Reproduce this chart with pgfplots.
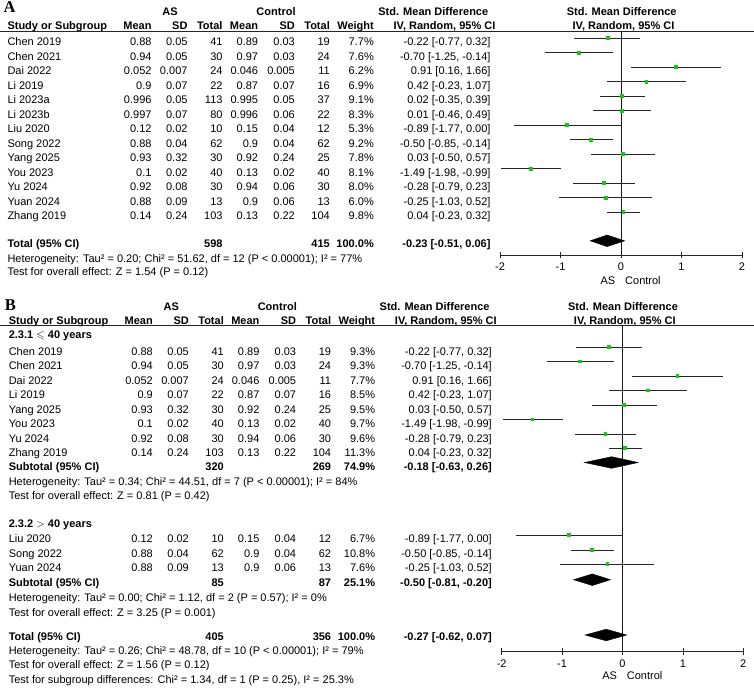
\documentclass[border=0pt]{standalone}
\usepackage{fontspec}
\setmainfont{Liberation Sans}
\newfontfamily\lserif{Liberation Serif}
\usepackage{amssymb}
\usepackage{pgfplots}
\usepackage{pgfplotstable}
\pgfplotsset{compat=1.18}
\definecolor{agreen}{RGB}{20,200,20}
\newcommand\fs{\fontsize{11}{13}\selectfont}

% Panel A studies: SMD, lower CI, upper CI, row position
\pgfplotstableread{
smd lo hi y
-0.22 -0.77 0.32 -38.2
-0.70 -1.25 -0.14 -52.7
0.91 0.16 1.66 -67.2
0.42 -0.23 1.07 -81.7
0.02 -0.35 0.39 -96.2
0.01 -0.46 0.49 -110.7
-0.89 -1.77 0.00 -125.2
-0.50 -0.85 -0.14 -139.7
0.03 -0.50 0.57 -154.2
-1.49 -1.98 -0.99 -168.7
-0.28 -0.79 0.23 -183.2
-0.25 -1.03 0.52 -197.7
0.04 -0.23 0.32 -212.2
}\studiesA

% Panel B studies
\pgfplotstableread{
smd lo hi y
-0.22 -0.77 0.32 -347
-0.70 -1.25 -0.14 -361.5
0.91 0.16 1.66 -376
0.42 -0.23 1.07 -390.5
0.03 -0.50 0.57 -405
-1.49 -1.98 -0.99 -419.5
-0.28 -0.79 0.23 -434
0.04 -0.23 0.32 -448.3
-0.89 -1.77 0.00 -535
-0.50 -0.85 -0.14 -550
-0.25 -1.03 0.52 -564.3
}\studiesB

\def\xo{0}
\newcommand\drow[9]{%
 \node[anchor=base west] at (7.3+\xo,#1) {#2};
 \node[anchor=base east] at (151.7+\xo,#1) {#3};
 \node[anchor=base east] at (187.7+\xo,#1) {#4};
 \node[anchor=base east] at (222.7+\xo,#1) {#5};
 \node[anchor=base east] at (258.3+\xo,#1) {#6};
 \node[anchor=base east] at (295+\xo,#1) {#7};
 \node[anchor=base east] at (330+\xo,#1) {#8};
 \node[anchor=base east] at (374+\xo,#1) {#9};}
\newcommand\ci[2]{\node[anchor=base east] at (490.7+\xo,#1) {#2};}
\newcommand\hdr[4]{% #1 letter, #2 letter baseline, #3 first header baseline, #4 second header baseline
 \node[anchor=base west, font=\lserif\bfseries\fontsize{16.5}{18}\selectfont] at (3.5+\xo,#2) {#1};
 \begin{scope}[every node/.append style={font=\fs\bfseries}]
 \node[anchor=base] at (170+\xo,#3) {AS};
 \node[anchor=base] at (276+\xo,#3) {Control};
 \node[anchor=base] at (433.3+\xo,#3) {Std. Mean Difference};
 \node[anchor=base] at (621.7+\xo,#3) {Std. Mean Difference};
 \node[anchor=base west] at (7.3+\xo,#4) {Study or Subgroup};
 \node[anchor=base east] at (151.7+\xo,#4) {Mean};
 \node[anchor=base east] at (187.7+\xo,#4) {SD};
 \node[anchor=base east] at (222.7+\xo,#4) {Total};
 \node[anchor=base east] at (258.3+\xo,#4) {Mean};
 \node[anchor=base east] at (295+\xo,#4) {SD};
 \node[anchor=base east] at (330+\xo,#4) {Total};
 \node[anchor=base east] at (374+\xo,#4) {Weight};
 \node[anchor=base] at (444.5+\xo,#4) {IV, Random, 95\% CI};
 \node[anchor=base] at (623.5+\xo,#4) {IV, Random, 95\% CI};
 \end{scope}
 \draw[line width=0.8pt, black!85] (0,#4+1.3) -- (754,#4+1.3);}

\pgfplotsset{forest/.style={
 scale only axis, clip=false,
 xmin=-2, xmax=2,
 axis x line*=bottom, axis y line=none, ytick=\empty,
 x axis line style={-, line width=0.8pt, black!85},
 xtick={-2,-1,0,1,2}, xtick align=center, major tick length=6.6pt,
 tick style={line width=0.8pt, black!85},
 xticklabel style={font=\fs, anchor=base, inner sep=0pt, yshift=-12.4pt},
 /pgf/number format/assume math mode=true,
}}

\begin{document}
\begin{tikzpicture}[every node/.style={inner sep=0pt, font=\fs}]
\useasboundingbox (0pt,0pt) rectangle (754pt,-691pt);

% ---------------- Panel A text ----------------
\begin{scope}[x=1pt,y=-1pt]
\hdr{A}{12.7}{15.7}{29.7}
\drow{45.7}{Chen 2019}{0.88}{0.05}{41}{0.89}{0.03}{19}{7.7\%}\ci{45.7}{-0.22 [-0.77, 0.32]}
\drow{60.2}{Chen 2021}{0.94}{0.05}{30}{0.97}{0.03}{24}{7.6\%}\ci{60.2}{-0.70 [-1.25, -0.14]}
\drow{74.7}{Dai 2022}{0.052}{0.007}{24}{0.046}{0.005}{11}{6.2\%}\ci{74.7}{0.91 [0.16, 1.66]}
\drow{89.2}{Li 2019}{0.9}{0.07}{22}{0.87}{0.07}{16}{6.9\%}\ci{89.2}{0.42 [-0.23, 1.07]}
\drow{103.7}{Li 2023a}{0.996}{0.05}{113}{0.995}{0.05}{37}{9.1\%}\ci{103.7}{0.02 [-0.35, 0.39]}
\drow{118.2}{Li 2023b}{0.997}{0.07}{80}{0.996}{0.06}{22}{8.3\%}\ci{118.2}{0.01 [-0.46, 0.49]}
\drow{132.7}{Liu 2020}{0.12}{0.02}{10}{0.15}{0.04}{12}{5.3\%}\ci{132.7}{-0.89 [-1.77, 0.00]}
\drow{147.2}{Song 2022}{0.88}{0.04}{62}{0.9}{0.04}{62}{9.2\%}\ci{147.2}{-0.50 [-0.85, -0.14]}
\drow{161.7}{Yang 2025}{0.93}{0.32}{30}{0.92}{0.24}{25}{7.8\%}\ci{161.7}{0.03 [-0.50, 0.57]}
\drow{176.2}{You 2023}{0.1}{0.02}{40}{0.13}{0.02}{40}{8.1\%}\ci{176.2}{-1.49 [-1.98, -0.99]}
\drow{190.7}{Yu 2024}{0.92}{0.08}{30}{0.94}{0.06}{30}{8.0\%}\ci{190.7}{-0.28 [-0.79, 0.23]}
\drow{205.2}{Yuan 2024}{0.88}{0.09}{13}{0.9}{0.06}{13}{6.0\%}\ci{205.2}{-0.25 [-1.03, 0.52]}
\drow{219.7}{Zhang 2019}{0.14}{0.24}{103}{0.13}{0.22}{104}{9.8\%}\ci{219.7}{0.04 [-0.23, 0.32]}
\begin{scope}[every node/.append style={font=\fs\bfseries}]
\drow{247.7}{Total (95\% CI)}{}{}{598}{}{}{415}{100.0\%}\ci{247.7}{-0.23 [-0.51, 0.06]}
\end{scope}
\node[anchor=base west] at (7.3,262.3) {Heterogeneity: Tau² = 0.20; Chi² = 51.62, df = 12 (P < 0.00001); I² = 77\%};
\node[anchor=base west] at (7.3,275.7) {Test for overall effect: Z = 1.54 (P = 0.12)};
\node[anchor=base east] at (615.5,284) {AS};
\node[anchor=base west] at (625,284) {Control};
\end{scope}

% ---------------- Panel A plot ----------------
\begin{axis}[forest, at={(500pt,-255pt)}, anchor=south west,
  width=242pt, height=224pt, ymin=-255, ymax=-31]
\addplot[black!90, line width=0.8pt] coordinates {(0,-31) (0,-255)};
\addplot[draw=none, mark=none, error bars/.cd, x dir=both, x explicit, error mark=none,
  error bar style={draw=black!85, line width=0.8pt}]
  table[x=smd, y=y, x error plus expr=\thisrow{hi}-\thisrow{smd},
        x error minus expr=\thisrow{smd}-\thisrow{lo}] {\studiesA};
\addplot[only marks, color=agreen, mark=square*, mark size=1.4pt, mark options={draw=agreen, fill=agreen, line width=0pt}]
  table[x=smd, y=y] {\studiesA};
\addplot[fill=black, draw=black] coordinates {(-0.51,-240.8) (-0.23,-235) (0.06,-240.8) (-0.23,-246.6)} -- cycle;
\end{axis}

% ---------------- Panel B text ----------------
\begin{scope}[x=1pt,y=-1pt]
\def\xo{1.3}
\hdr{B}{310.5}{310}{324.4}
\node[anchor=base west, font=\fs\bfseries] at (7.3+\xo,338.3) {2.3.1 $\leqslant$ 40 years};
\drow{355}{Chen 2019}{0.88}{0.05}{41}{0.89}{0.03}{19}{9.3\%}\ci{355}{-0.22 [-0.77, 0.32]}
\drow{369.5}{Chen 2021}{0.94}{0.05}{30}{0.97}{0.03}{24}{9.3\%}\ci{369.5}{-0.70 [-1.25, -0.14]}
\drow{384}{Dai 2022}{0.052}{0.007}{24}{0.046}{0.005}{11}{7.7\%}\ci{384}{0.91 [0.16, 1.66]}
\drow{398.5}{Li 2019}{0.9}{0.07}{22}{0.87}{0.07}{16}{8.5\%}\ci{398.5}{0.42 [-0.23, 1.07]}
\drow{413}{Yang 2025}{0.93}{0.32}{30}{0.92}{0.24}{25}{9.5\%}\ci{413}{0.03 [-0.50, 0.57]}
\drow{427.5}{You 2023}{0.1}{0.02}{40}{0.13}{0.02}{40}{9.7\%}\ci{427.5}{-1.49 [-1.98, -0.99]}
\drow{442}{Yu 2024}{0.92}{0.08}{30}{0.94}{0.06}{30}{9.6\%}\ci{442}{-0.28 [-0.79, 0.23]}
\drow{456.3}{Zhang 2019}{0.14}{0.24}{103}{0.13}{0.22}{104}{11.3\%}\ci{456.3}{0.04 [-0.23, 0.32]}
\begin{scope}[every node/.append style={font=\fs\bfseries}]
\drow{470.5}{Subtotal (95\% CI)}{}{}{320}{}{}{269}{74.9\%}\ci{470.5}{-0.18 [-0.63, 0.26]}
\end{scope}
\node[anchor=base west] at (7.3+\xo,485) {Heterogeneity: Tau² = 0.34; Chi² = 44.51, df = 7 (P < 0.00001); I² = 84\%};
\node[anchor=base west] at (7.3+\xo,499) {Test for overall effect: Z = 0.81 (P = 0.42)};
\node[anchor=base west, font=\fs\bfseries] at (7.3+\xo,527.3) {2.3.2 $>$ 40 years};
\drow{542.3}{Liu 2020}{0.12}{0.02}{10}{0.15}{0.04}{12}{6.7\%}\ci{542.3}{-0.89 [-1.77, 0.00]}
\drow{557}{Song 2022}{0.88}{0.04}{62}{0.9}{0.04}{62}{10.8\%}\ci{557}{-0.50 [-0.85, -0.14]}
\drow{571.7}{Yuan 2024}{0.88}{0.09}{13}{0.9}{0.06}{13}{7.6\%}\ci{571.7}{-0.25 [-1.03, 0.52]}
\begin{scope}[every node/.append style={font=\fs\bfseries}]
\drow{586.3}{Subtotal (95\% CI)}{}{}{85}{}{}{87}{25.1\%}\ci{586.3}{-0.50 [-0.81, -0.20]}
\drow{640}{Total (95\% CI)}{}{}{405}{}{}{356}{100.0\%}\ci{640}{-0.27 [-0.62, 0.07]}
\end{scope}
\node[anchor=base west] at (7.3+\xo,601.3) {Heterogeneity: Tau² = 0.00; Chi² = 1.12, df = 2 (P = 0.57); I² = 0\%};
\node[anchor=base west] at (7.3+\xo,616) {Test for overall effect: Z = 3.25 (P = 0.001)};
\node[anchor=base west] at (7.3+\xo,654) {Heterogeneity: Tau² = 0.26; Chi² = 48.78, df = 10 (P < 0.00001); I² = 79\%};
\node[anchor=base west] at (7.3+\xo,668.3) {Test for overall effect: Z = 1.56 (P = 0.12)};
\node[anchor=base west] at (7.3+\xo,683) {Test for subgroup differences: Chi² = 1.34, df = 1 (P = 0.25), I² = 25.3\%};
\node[anchor=base east] at (617.2,679.7) {AS};
\node[anchor=base west] at (626.7,679.7) {Control};
\end{scope}

% ---------------- Panel B plot ----------------
\begin{axis}[forest, at={(501.7pt,-651.7pt)}, anchor=south west,
  width=241.6pt, height=326.2pt, ymin=-651.7, ymax=-325.5]
\addplot[black!90, line width=0.8pt] coordinates {(0,-325.5) (0,-651.7)};
\addplot[draw=none, mark=none, error bars/.cd, x dir=both, x explicit, error mark=none,
  error bar style={draw=black!85, line width=0.8pt}]
  table[x=smd, y=y, x error plus expr=\thisrow{hi}-\thisrow{smd},
        x error minus expr=\thisrow{smd}-\thisrow{lo}] {\studiesB};
\addplot[only marks, color=agreen, mark=square*, mark size=1.4pt, mark options={draw=agreen, fill=agreen, line width=0pt}]
  table[x=smd, y=y] {\studiesB};
\addplot[fill=black, draw=black] coordinates {(-0.63,-462.5) (-0.18,-456.7) (0.26,-462.5) (-0.18,-468.3)} -- cycle;
\addplot[fill=black, draw=black] coordinates {(-0.81,-579.7) (-0.50,-573.9) (-0.20,-579.7) (-0.50,-585.5)} -- cycle;
\addplot[fill=black, draw=black] coordinates {(-0.62,-635) (-0.27,-629.2) (0.07,-635) (-0.27,-640.8)} -- cycle;
\end{axis}
\end{tikzpicture}
\end{document}
